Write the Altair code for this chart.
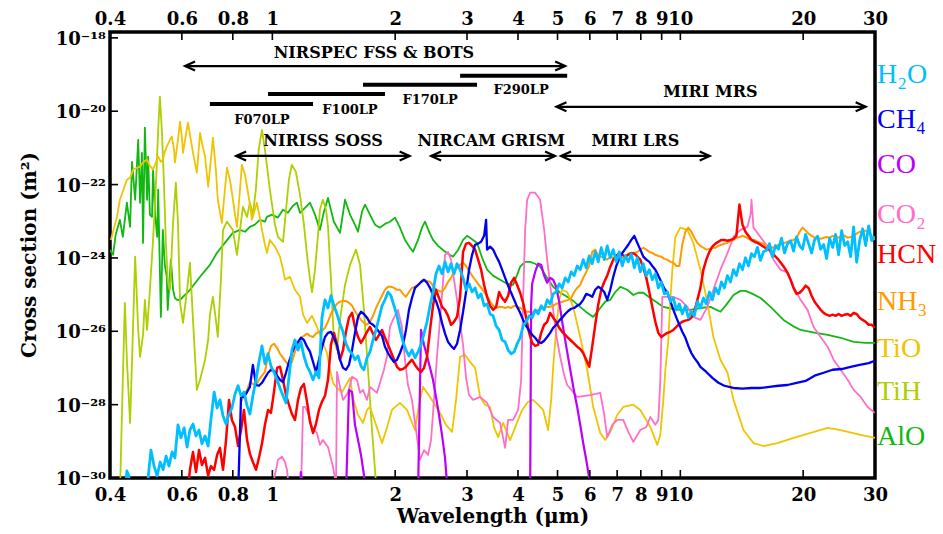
import altair as alt
import pandas as pd

# ---------------- axis tick values ----------------
X_TICKS = [0.4, 0.6, 0.8, 1, 2, 3, 4, 5, 6, 7, 8, 9, 10, 20, 30]
Y_TICKS = [-30, -28, -26, -24, -22, -20, -18]
Y_TOP = -17.84          # the frame top sits slightly above 10^-18

# Spectra were read as log10 values on a grid assuming 10^-18 at the frame top;
# READ_GAIN re-calibrates those readings to the true axis (10^-30 fixed at the bottom).
READ_GAIN = 1.0142

# ---------------- spectra: (wavelength um, log10 cross section m^2 as read) ----------------
ALO = [(0.400,-23.87),(0.407,-24.00),(0.413,-23.46),(0.423,-23.06),(0.430,-23.52),(0.440,-22.60),(0.448,-23.25),(0.453,-21.50),(0.461,-22.52),(0.469,-20.91),(0.474,-22.60),(0.479,-21.26),(0.482,-23.68),(0.487,-20.58),(0.493,-22.52),(0.496,-21.36),(0.501,-22.92),(0.507,-22.98),(0.510,-21.71),(0.516,-22.92),(0.522,-23.52),(0.525,-22.25),(0.533,-25.67),(0.539,-23.33),(0.545,-24.27),(0.551,-24.59),(0.554,-25.48),(0.564,-24.13),(0.571,-24.94),(0.577,-25.16),(0.584,-25.21),(0.594,-25.21),(0.628,-24.94),(0.665,-24.59),(0.703,-24.27),(0.731,-23.95),(0.765,-23.68),(0.800,-23.41),(0.833,-23.33),(0.857,-23.38),(0.881,-23.25),(0.906,-23.19),(0.932,-23.06),(0.959,-23.11),(0.970,-22.98),(0.997,-22.92),(1.032,-23.00),(1.062,-22.79),(1.092,-22.87),(1.123,-22.68),(1.149,-22.60),(1.169,-22.87),(1.202,-22.74),(1.237,-22.60),(1.272,-22.92),(1.308,-23.33),(1.338,-22.84),(1.369,-22.47),(1.415,-23.11),(1.465,-23.41),(1.507,-22.52),(1.550,-22.92),(1.594,-23.19),(1.621,-23.38),(1.659,-22.84),(1.687,-22.65),(1.735,-22.92),(1.785,-23.19),(1.836,-23.27),(1.888,-23.17),(1.942,-23.11),(1.998,-23.00),(2.055,-23.27),(2.114,-23.60),(2.175,-23.81),(2.212,-23.92),(2.275,-23.60),(2.327,-23.27),(2.367,-23.11),(2.421,-23.38),(2.476,-23.60),(2.548,-23.76),(2.620,-23.87),(2.695,-23.97),(2.772,-24.05),(2.852,-23.87),(2.934,-23.60),(3.001,-23.49),(3.052,-23.54),(3.175,-23.68),(3.267,-24.08),(3.360,-24.40),(3.475,-24.56),(3.616,-24.67),(3.762,-24.78),(3.891,-24.81),(3.980,-24.54),(4.049,-24.32),(4.165,-24.19),(4.284,-24.19),(4.407,-24.24),(4.533,-24.32),(4.716,-24.62),(4.879,-24.86),(5.076,-25.02),(5.280,-25.13),(5.462,-25.24),(5.683,-25.40),(5.912,-25.56),(6.116,-25.67),(6.364,-25.43),(6.546,-25.26),(6.734,-25.21),(6.927,-25.00),(7.125,-24.86),(7.413,-24.94),(7.668,-25.08),(7.888,-25.02),(8.114,-25.02),(8.442,-25.16),(8.782,-25.29),(9.085,-25.40),(9.559,-25.45),(10.00,-25.48),(10.58,-25.48),(11.20,-25.43),(11.85,-25.40),(12.54,-25.53),(12.97,-25.34),(13.50,-25.08),(14.04,-24.97),(14.44,-24.97),(15.03,-25.05),(15.72,-25.16),(16.64,-25.40),(17.90,-25.75),(18.84,-25.91),(19.71,-26.02),(21.45,-26.10),(22.96,-26.15),(24.71,-26.23),(26.59,-26.34),(28.46,-26.37),(30.0,-26.37)]

TIO = [(0.402,-23.60),(0.407,-23.38),(0.416,-22.98),(0.423,-22.52),(0.430,-22.30),(0.440,-21.98),(0.448,-21.93),(0.456,-21.71),(0.466,-21.66),(0.474,-21.63),(0.482,-21.52),(0.493,-21.44),(0.501,-21.61),(0.510,-21.71),(0.519,-21.50),(0.525,-21.36),(0.533,-21.50),(0.539,-21.44),(0.545,-21.23),(0.551,-21.09),(0.561,-20.91),(0.567,-20.82),(0.574,-21.17),(0.577,-21.52),(0.587,-20.91),(0.594,-20.42),(0.601,-20.91),(0.604,-21.26),(0.614,-20.77),(0.621,-20.45),(0.628,-20.77),(0.639,-21.26),(0.653,-21.79),(0.665,-20.72),(0.672,-20.99),(0.684,-21.36),(0.696,-22.17),(0.707,-21.44),(0.715,-20.85),(0.727,-21.71),(0.735,-22.52),(0.752,-23.14),(0.765,-22.25),(0.774,-21.66),(0.787,-21.98),(0.796,-22.33),(0.810,-22.92),(0.819,-23.25),(0.833,-22.25),(0.842,-21.58),(0.857,-21.85),(0.867,-22.17),(0.881,-22.65),(0.891,-23.06),(0.906,-22.79),(0.916,-22.60),(0.932,-23.00),(0.943,-23.33),(0.959,-23.73),(0.970,-23.95),(0.986,-23.60),(1.015,-23.78),(1.044,-24.05),(1.062,-24.40),(1.074,-24.67),(1.104,-24.59),(1.136,-24.94),(1.169,-25.13),(1.189,-25.61),(1.216,-25.83),(1.251,-25.64),(1.286,-25.94),(1.323,-26.29),(1.361,-26.64),(1.384,-27.09),(1.408,-27.44),(1.440,-27.58),(1.482,-27.69),(1.516,-27.50),(1.550,-27.31),(1.576,-27.85),(1.621,-28.30),(1.668,-28.52),(1.706,-28.17),(1.735,-28.09),(1.795,-28.57),(1.857,-29.06),(1.909,-28.65),(1.964,-28.17),(2.055,-27.98),(2.138,-28.17),(2.237,-28.71),(2.288,-28.03),(2.340,-27.55),(2.435,-27.82),(2.576,-28.25),(2.665,-28.57),(2.757,-28.76),(2.820,-27.90),(2.885,-26.74),(2.967,-26.69),(3.052,-26.88),(3.140,-27.04),(3.230,-27.82),(3.322,-28.03),(3.417,-28.09),(3.494,-28.63),(3.575,-28.90),(3.677,-28.52),(3.826,-28.98),(3.958,-28.57),(4.095,-28.17),(4.236,-27.95),(4.357,-27.90),(4.482,-28.03),(4.610,-28.17),(4.742,-28.71),(4.824,-27.90),(4.879,-27.01),(4.962,-26.02),(5.046,-25.21),(5.133,-24.94),(5.280,-25.00),(5.462,-25.40),(5.683,-26.21),(5.912,-27.09),(6.116,-28.09),(6.364,-28.79),(6.546,-28.98),(6.734,-28.76),(7.005,-28.30),(7.246,-28.09),(7.668,-28.03),(7.978,-28.17),(8.442,-28.63),(8.782,-29.11),(8.933,-28.84),(9.085,-27.90),(9.189,-27.09),(9.345,-26.29),(9.452,-25.21),(9.559,-24.40),(9.723,-23.52),(10.00,-23.27),(10.41,-23.33),(10.76,-23.68),(11.20,-24.40),(11.65,-25.29),(12.05,-26.21),(12.54,-26.82),(13.05,-27.17),(13.50,-27.90),(14.28,-28.71),(15.11,-29.06),(15.99,-29.14),(17.30,-29.06),(18.95,-28.92),(20.86,-28.79),(22.96,-28.65),(24.71,-28.71),(27.67,-28.84),(30.0,-28.92)]

TIH = [(0.423,-30.5),(0.430,-27.36),(0.435,-25.29),(0.440,-26.82),(0.448,-28.52),(0.453,-26.82),(0.461,-24.05),(0.469,-26.02),(0.474,-26.74),(0.482,-26.15),(0.487,-25.21),(0.493,-26.02),(0.501,-24.94),(0.510,-23.60),(0.519,-21.98),(0.525,-20.64),(0.530,-19.75),(0.536,-20.64),(0.542,-21.98),(0.548,-23.60),(0.554,-24.67),(0.561,-24.94),(0.571,-23.14),(0.580,-22.06),(0.587,-23.14),(0.594,-25.29),(0.604,-25.83),(0.618,-24.94),(0.628,-24.21),(0.639,-25.75),(0.653,-27.63),(0.665,-27.36),(0.684,-26.82),(0.696,-26.29),(0.703,-25.61),(0.715,-25.13),(0.727,-25.75),(0.735,-26.21),(0.748,-24.67),(0.757,-23.33),(0.774,-23.11),(0.800,-23.33),(0.819,-24.00),(0.833,-23.33),(0.847,-22.71),(0.867,-22.98),(0.881,-22.60),(0.896,-22.92),(0.911,-22.25),(0.926,-21.17),(0.943,-20.64),(0.959,-21.17),(0.986,-22.25),(1.015,-23.19),(1.032,-23.52),(1.062,-23.65),(1.080,-22.79),(1.098,-21.98),(1.116,-21.58),(1.142,-21.77),(1.169,-22.39),(1.195,-23.19),(1.216,-24.00),(1.237,-24.67),(1.251,-25.00),(1.272,-24.40),(1.294,-23.46),(1.308,-22.79),(1.330,-22.52),(1.354,-22.79),(1.369,-23.25),(1.392,-24.67),(1.415,-26.29),(1.440,-26.56),(1.465,-25.75),(1.507,-24.81),(1.550,-24.27),(1.603,-23.86),(1.640,-24.27),(1.677,-25.48),(1.716,-27.09),(1.755,-28.71),(1.805,-30.5)]

H2O = [(0.435,-30.6),(0.440,-29.81),(0.445,-29.94),(0.450,-30.6),(0.490,-30.6),(0.496,-30.00),(0.504,-29.25),(0.513,-29.68),(0.522,-29.94),(0.531,-29.57),(0.540,-29.78),(0.549,-29.41),(0.558,-29.68),(0.568,-29.30),(0.577,-29.46),(0.587,-28.57),(0.597,-28.92),(0.608,-28.65),(0.618,-29.17),(0.628,-28.71),(0.639,-28.55),(0.650,-28.87),(0.661,-28.71),(0.672,-29.08),(0.684,-28.87),(0.696,-29.14),(0.707,-28.44),(0.720,-27.69),(0.732,-28.12),(0.744,-27.90),(0.757,-28.33),(0.770,-28.55),(0.783,-28.28),(0.796,-28.12),(0.810,-27.74),(0.824,-27.52),(0.838,-27.79),(0.852,-27.69),(0.867,-28.06),(0.881,-28.28),(0.896,-27.79),(0.912,-27.36),(0.927,-26.88),(0.943,-26.45),(0.959,-26.93),(0.976,-26.66),(0.992,-26.99),(1.009,-27.15),(1.027,-27.36),(1.044,-27.58),(1.062,-27.79),(1.080,-27.98),(1.098,-27.31),(1.117,-26.56),(1.136,-26.29),(1.156,-26.56),(1.175,-26.34),(1.195,-26.72),(1.216,-26.99),(1.237,-27.15),(1.258,-27.36),(1.279,-27.15),(1.301,-27.31),(1.323,-25.69),(1.346,-25.21),(1.369,-25.43),(1.392,-25.10),(1.416,-25.37),(1.440,-25.59),(1.465,-25.86),(1.490,-26.07),(1.515,-26.39),(1.541,-26.56),(1.568,-26.66),(1.594,-26.82),(1.622,-26.72),(1.649,-26.99),(1.677,-27.09),(1.706,-26.77),(1.735,-26.61),(1.765,-26.29),(1.795,-26.02),(1.826,-25.69),(1.857,-25.37),(1.888,-25.21),(1.921,-25.00),(1.953,-25.10),(1.987,-25.37),(2.021,-25.64),(2.055,-26.02),(2.090,-26.34),(2.126,-26.56),(2.162,-26.72),(2.199,-26.56),(2.237,-26.77),(2.275,-26.61),(2.314,-26.42),(2.353,-26.12),(2.394,-25.80),(2.435,-25.37),(2.476,-25.00),(2.518,-24.51),(2.561,-24.30),(2.605,-24.51),(2.650,-24.19),(2.695,-24.46),(2.741,-24.24),(2.788,-24.51),(2.836,-24.24),(2.885,-24.40),(2.934,-24.62),(2.984,-24.94),(3.035,-24.78),(3.087,-25.00),(3.140,-24.89),(3.194,-25.16),(3.248,-25.05),(3.304,-25.37),(3.360,-25.32),(3.417,-25.59),(3.476,-25.64),(3.535,-25.91),(3.596,-26.02),(3.657,-26.29),(3.720,-26.34),(3.783,-26.56),(3.848,-26.66),(3.914,-26.61),(3.981,-26.39),(4.049,-26.23),(4.118,-25.91),(4.189,-25.80),(4.260,-25.64),(4.333,-25.69),(4.407,-25.48),(4.483,-25.59),(4.559,-25.37),(4.637,-25.48),(4.716,-25.21),(4.797,-25.32),(4.879,-25.05),(4.962,-25.00),(5.047,-24.78),(5.133,-24.89),(5.221,-24.62),(5.310,-24.73),(5.401,-24.46),(5.493,-24.56),(5.587,-24.30),(5.683,-24.40),(5.780,-24.13),(5.879,-24.35),(5.979,-24.03),(6.081,-24.24),(6.186,-23.92),(6.291,-24.19),(6.399,-23.81),(6.508,-24.13),(6.619,-23.76),(6.734,-24.08),(6.849,-23.86),(6.966,-24.19),(7.085,-23.92),(7.206,-24.30),(7.330,-24.03),(7.455,-24.19),(7.583,-23.97),(7.712,-24.35),(7.844,-24.08),(7.978,-24.46),(8.114,-24.24),(8.253,-24.56),(8.394,-24.40),(8.537,-24.67),(8.684,-24.51),(8.832,-24.89),(8.983,-24.73),(9.137,-25.05),(9.293,-25.00),(9.452,-25.26),(9.613,-25.16),(9.778,-25.48),(9.945,-25.32),(10.11,-25.59),(10.29,-25.37),(10.46,-25.69),(10.64,-25.53),(10.82,-25.64),(11.01,-25.26),(11.20,-25.43),(11.39,-25.16),(11.58,-25.32),(11.78,-25.00),(11.98,-25.21),(12.19,-24.89),(12.40,-25.05),(12.61,-24.73),(12.82,-24.89),(13.04,-24.56),(13.27,-24.73),(13.49,-24.40),(13.72,-24.56),(13.96,-24.24),(14.20,-24.40),(14.44,-24.08),(14.69,-24.30),(14.94,-23.97),(15.19,-24.05),(15.45,-23.80),(15.72,-24.15),(15.99,-23.92),(16.26,-23.88),(16.54,-23.70),(16.82,-24.05),(17.11,-23.75),(17.40,-23.85),(17.70,-23.55),(18.00,-23.95),(18.31,-23.70),(18.63,-23.62),(18.94,-23.90),(19.27,-23.52),(19.60,-23.75),(19.93,-23.85),(20.28,-23.45),(20.62,-23.70),(20.98,-23.95),(21.33,-23.60),(21.70,-23.50),(22.07,-23.85),(22.45,-23.72),(22.83,-24.10),(23.22,-23.55),(23.62,-23.80),(24.02,-23.45),(24.43,-24.00),(24.85,-23.35),(25.28,-23.75),(25.71,-23.65),(26.15,-24.05),(26.59,-23.25),(27.05,-24.20),(27.51,-23.62),(27.98,-23.30),(28.46,-23.75),(28.95,-23.22),(29.44,-23.62),(29.95,-23.50)]

CH4 = [(0.824,-30.5),(0.838,-27.82),(0.852,-27.82),(0.867,-27.69),(0.881,-27.55),(0.896,-26.96),(0.912,-27.50),(0.927,-27.52),(0.943,-27.44),(0.959,-27.31),(0.976,-27.17),(0.992,-27.09),(1.009,-27.12),(1.027,-27.25),(1.044,-27.36),(1.062,-27.42),(1.080,-27.17),(1.098,-26.88),(1.117,-26.64),(1.136,-26.45),(1.156,-26.34),(1.175,-26.23),(1.195,-26.29),(1.216,-26.47),(1.237,-26.61),(1.258,-26.88),(1.279,-27.15),(1.301,-26.82),(1.323,-26.50),(1.346,-26.21),(1.369,-26.10),(1.392,-26.07),(1.416,-26.23),(1.440,-26.42),(1.465,-26.82),(1.490,-27.04),(1.515,-27.09),(1.541,-26.96),(1.568,-26.56),(1.594,-26.10),(1.622,-25.67),(1.649,-25.53),(1.677,-25.59),(1.706,-25.69),(1.735,-25.83),(1.765,-25.88),(1.795,-25.96),(1.826,-26.07),(1.857,-26.18),(1.888,-26.47),(1.921,-26.64),(1.953,-26.77),(1.987,-26.88),(2.021,-26.82),(2.055,-26.64),(2.090,-26.42),(2.126,-26.02),(2.162,-25.48),(2.199,-25.16),(2.237,-24.89),(2.275,-24.81),(2.314,-24.73),(2.353,-24.67),(2.394,-24.75),(2.435,-24.89),(2.476,-25.08),(2.518,-25.24),(2.561,-25.48),(2.605,-25.83),(2.650,-26.12),(2.695,-26.34),(2.741,-26.45),(2.788,-26.53),(2.836,-26.39),(2.885,-26.02),(2.934,-25.53),(2.984,-25.00),(3.035,-24.40),(3.087,-24.00),(3.140,-23.73),(3.194,-23.70),(3.248,-23.65),(3.304,-23.49),(3.341,-23.06),(3.360,-23.86),(3.417,-23.78),(3.476,-23.86),(3.535,-24.03),(3.596,-24.19),(3.657,-24.40),(3.720,-24.62),(3.783,-24.83),(3.848,-25.02),(3.914,-25.21),(3.981,-25.40),(4.049,-25.56),(4.118,-25.75),(4.189,-25.91),(4.260,-26.04),(4.333,-26.15),(4.407,-26.23),(4.483,-26.34),(4.559,-26.37),(4.637,-26.31),(4.716,-26.21),(4.797,-26.10),(4.879,-25.96),(4.962,-25.88),(5.047,-25.77),(5.133,-25.69),(5.221,-25.59),(5.310,-25.51),(5.401,-25.45),(5.493,-25.43),(5.587,-25.37),(5.683,-25.32),(5.780,-25.21),(5.879,-25.05),(5.979,-25.08),(6.081,-25.13),(6.186,-24.94),(6.291,-24.86),(6.399,-24.91),(6.508,-25.00),(6.619,-25.21),(6.734,-24.94),(6.849,-24.59),(6.966,-24.30),(7.085,-24.11),(7.206,-23.95),(7.330,-23.84),(7.455,-23.73),(7.583,-23.60),(7.712,-23.49),(7.844,-23.68),(7.978,-23.86),(8.114,-24.05),(8.253,-24.13),(8.394,-24.19),(8.537,-24.30),(8.684,-24.40),(8.832,-24.56),(8.983,-24.73),(9.137,-24.91),(9.293,-25.02),(9.452,-25.24),(9.613,-25.48),(9.778,-25.69),(9.945,-25.88),(10.11,-26.07),(10.29,-26.23),(10.46,-26.45),(10.64,-26.64),(10.82,-26.77),(11.01,-26.88),(11.20,-27.01),(11.58,-27.15),(11.98,-27.31),(12.40,-27.44),(12.82,-27.52),(13.49,-27.58),(14.20,-27.60),(14.94,-27.58),(15.72,-27.58),(16.54,-27.55),(17.40,-27.52),(18.31,-27.50),(19.27,-27.44),(20.28,-27.39),(21.33,-27.25),(22.45,-27.17),(23.62,-27.09),(24.85,-27.07),(26.15,-27.01),(27.51,-26.96),(28.95,-26.91),(29.95,-26.85)]

HCN = [(0.618,-30.5),(0.628,-29.78),(0.639,-29.30),(0.650,-29.84),(0.661,-29.25),(0.672,-29.65),(0.684,-29.46),(0.696,-29.94),(0.707,-29.68),(0.720,-29.78),(0.732,-29.38),(0.744,-29.19),(0.757,-29.78),(0.770,-28.98),(0.783,-27.90),(0.796,-28.44),(0.810,-28.63),(0.824,-29.14),(0.838,-28.71),(0.852,-28.17),(0.867,-28.98),(0.881,-29.35),(0.896,-29.57),(0.912,-29.78),(0.927,-29.46),(0.943,-29.08),(0.959,-28.57),(0.976,-28.17),(0.992,-28.25),(1.009,-27.69),(1.027,-27.04),(1.044,-27.01),(1.062,-27.36),(1.080,-27.77),(1.098,-28.03),(1.117,-28.28),(1.136,-28.44),(1.156,-27.90),(1.175,-27.58),(1.195,-27.47),(1.216,-27.95),(1.237,-28.49),(1.258,-28.79),(1.279,-28.55),(1.301,-28.17),(1.323,-27.95),(1.346,-27.79),(1.369,-27.36),(1.392,-26.42),(1.416,-26.10),(1.440,-26.42),(1.465,-26.82),(1.490,-26.56),(1.515,-26.07),(1.541,-25.69),(1.568,-25.56),(1.594,-25.94),(1.622,-26.21),(1.649,-26.37),(1.677,-26.23),(1.706,-26.07),(1.735,-25.94),(1.765,-26.12),(1.795,-26.29),(1.826,-26.15),(1.857,-26.02),(1.888,-26.23),(1.921,-26.42),(1.953,-26.61),(1.987,-26.82),(2.021,-27.01),(2.055,-27.09),(2.090,-27.07),(2.126,-27.01),(2.162,-26.91),(2.199,-26.82),(2.237,-26.96),(2.275,-27.07),(2.314,-27.15),(2.353,-27.04),(2.394,-26.74),(2.435,-26.02),(2.476,-25.37),(2.518,-24.94),(2.561,-25.16),(2.605,-25.40),(2.650,-25.48),(2.695,-25.64),(2.741,-25.88),(2.788,-25.80),(2.836,-25.67),(2.885,-25.13),(2.934,-23.92),(2.984,-23.70),(3.035,-23.68),(3.087,-23.76),(3.140,-23.86),(3.194,-24.13),(3.248,-24.40),(3.304,-24.81),(3.360,-25.13),(3.417,-25.37),(3.476,-25.48),(3.535,-25.40),(3.596,-25.00),(3.657,-25.16),(3.720,-25.26),(3.783,-25.10),(3.848,-24.75),(3.914,-24.62),(3.981,-24.81),(4.049,-25.02),(4.118,-25.29),(4.189,-25.69),(4.260,-26.10),(4.333,-26.37),(4.407,-26.45),(4.483,-26.42),(4.559,-26.10),(4.637,-25.88),(4.716,-25.80),(4.797,-25.56),(4.879,-25.69),(4.962,-25.80),(5.047,-25.96),(5.133,-26.07),(5.221,-26.15),(5.310,-26.23),(5.401,-26.31),(5.493,-26.39),(5.587,-26.47),(5.683,-26.53),(5.780,-26.64),(5.879,-26.82),(5.979,-27.01),(6.081,-26.47),(6.186,-25.88),(6.291,-25.34),(6.399,-24.94),(6.508,-24.73),(6.619,-24.56),(6.734,-24.32),(6.849,-24.13),(6.966,-24.03),(7.085,-23.95),(7.206,-24.00),(7.330,-24.05),(7.455,-24.00),(7.583,-23.95),(7.712,-23.97),(7.844,-24.05),(7.978,-24.13),(8.114,-24.35),(8.253,-24.62),(8.394,-25.00),(8.537,-25.40),(8.684,-25.80),(8.832,-26.10),(8.983,-26.21),(9.137,-26.15),(9.293,-26.10),(9.452,-26.07),(9.613,-26.02),(9.778,-25.94),(9.945,-25.86),(10.11,-25.80),(10.29,-25.77),(10.46,-25.75),(10.64,-25.69),(10.82,-25.53),(11.01,-25.21),(11.20,-24.89),(11.39,-24.40),(11.58,-24.13),(11.78,-23.92),(11.98,-23.78),(12.19,-23.70),(12.40,-23.65),(12.61,-23.60),(12.82,-23.60),(13.04,-23.62),(13.27,-23.60),(13.49,-23.57),(13.72,-23.49),(13.96,-22.65),(14.20,-23.19),(14.44,-23.38),(14.69,-23.49),(14.94,-23.60),(15.19,-23.65),(15.45,-23.68),(15.72,-23.73),(15.99,-23.78),(16.26,-23.84),(16.54,-23.86),(16.82,-23.95),(17.11,-24.05),(17.40,-24.13),(17.70,-24.24),(18.00,-24.35),(18.31,-24.48),(18.63,-24.67),(18.94,-24.89),(19.27,-25.05),(19.60,-25.02),(19.93,-24.94),(20.28,-24.83),(20.62,-24.89),(20.98,-25.10),(21.33,-25.26),(21.70,-25.37),(22.07,-25.48),(22.45,-25.56),(22.83,-25.61),(23.22,-25.64),(23.62,-25.61),(24.02,-25.64),(24.43,-25.59),(24.85,-25.64),(25.28,-25.61),(25.71,-25.59),(26.15,-25.64),(26.59,-25.56),(27.05,-25.59),(27.51,-25.69),(27.98,-25.75),(28.46,-25.80),(28.95,-25.88),(29.44,-25.88),(29.95,-25.96)]

NH3 = [(0.838,-27.95),(0.852,-27.79),(0.867,-27.63),(0.881,-27.42),(0.896,-27.47),(0.912,-27.52),(0.927,-27.36),(0.943,-27.25),(0.959,-27.15),(0.976,-26.72),(0.992,-26.45),(1.009,-26.39),(1.027,-26.50),(1.044,-26.66),(1.062,-26.77),(1.080,-26.88),(1.098,-26.99),(1.117,-26.88),(1.136,-26.61),(1.156,-26.42),(1.175,-26.23),(1.195,-26.18),(1.216,-26.12),(1.237,-26.18),(1.258,-26.21),(1.279,-26.12),(1.301,-26.07),(1.323,-26.04),(1.346,-25.96),(1.369,-25.80),(1.392,-25.59),(1.416,-25.43),(1.440,-25.32),(1.465,-25.26),(1.490,-25.24),(1.515,-25.24),(1.541,-25.29),(1.568,-25.37),(1.594,-25.51),(1.622,-25.64),(1.649,-25.75),(1.677,-25.83),(1.706,-25.88),(1.735,-25.80),(1.765,-25.64),(1.795,-25.43),(1.826,-25.26),(1.857,-25.10),(1.888,-24.94),(1.921,-24.86),(1.953,-24.86),(1.987,-24.89),(2.021,-24.94),(2.055,-24.94),(2.090,-25.05),(2.126,-25.13),(2.162,-25.00),(2.199,-24.89),(2.237,-24.86),(2.275,-24.83),(2.314,-24.73),(2.353,-24.67),(2.394,-24.70),(2.435,-24.73),(2.476,-24.83),(2.518,-24.94),(2.561,-24.97),(2.605,-25.00),(2.650,-24.89),(2.695,-24.73),(2.741,-24.62),(2.788,-24.46),(2.836,-24.35),(2.885,-24.27),(2.934,-24.21),(2.984,-24.30),(3.035,-24.43),(3.087,-24.56),(3.140,-24.67),(3.194,-24.78),(3.248,-24.89),(3.304,-25.00),(3.360,-25.10),(3.417,-25.26),(3.476,-25.37),(3.535,-25.43),(3.596,-25.40),(3.657,-25.40),(3.720,-25.43),(3.783,-25.40),(3.848,-25.43),(3.914,-25.37),(3.981,-25.40),(4.049,-25.43),(4.118,-25.48),(4.189,-25.53),(4.260,-25.53),(4.333,-25.56),(4.407,-25.51),(4.483,-25.48),(4.559,-25.45),(4.637,-25.43),(4.716,-25.40),(4.797,-25.40),(4.879,-25.37),(4.962,-25.32),(5.047,-25.29),(5.133,-25.26),(5.221,-25.24),(5.310,-25.21),(5.401,-25.16),(5.493,-25.00),(5.587,-24.89),(5.683,-24.81),(5.780,-24.62),(5.879,-24.46),(5.979,-24.30),(6.081,-23.92),(6.186,-23.86),(6.291,-24.03),(6.399,-24.05),(6.508,-24.08),(6.619,-24.13),(6.734,-24.05),(6.849,-24.08),(6.966,-24.13),(7.085,-24.13),(7.206,-24.08),(7.330,-24.03),(7.455,-23.97),(7.583,-23.95),(7.712,-23.95),(7.844,-23.92),(7.978,-23.86),(8.114,-23.81),(8.253,-23.86),(8.394,-23.92),(8.537,-23.95),(8.684,-24.00),(8.832,-24.03),(8.983,-24.05),(9.137,-24.11),(9.293,-24.13),(9.452,-24.19),(9.613,-24.21),(9.778,-24.30),(9.945,-24.30),(10.11,-23.73),(10.29,-23.38),(10.46,-23.27),(10.64,-23.38),(10.82,-23.54),(11.01,-23.68),(11.20,-23.76),(11.39,-23.81),(11.58,-23.86),(11.78,-23.84),(11.98,-23.81),(12.19,-23.81),(12.40,-23.76),(12.61,-23.73),(12.82,-23.70),(13.04,-23.68),(13.27,-23.62),(13.49,-23.60),(13.72,-23.54),(13.96,-23.52),(14.20,-23.49),(14.44,-23.52),(14.69,-23.57),(14.94,-23.60),(15.19,-23.60),(15.45,-23.65),(15.72,-23.68),(15.99,-23.70),(16.26,-23.76),(16.54,-23.78),(16.82,-23.81),(17.11,-23.78),(17.40,-23.73),(17.70,-23.70),(18.00,-23.68),(18.31,-23.65),(18.63,-23.62),(18.94,-23.60),(19.27,-23.54),(19.60,-23.38),(19.93,-23.27),(20.28,-23.35),(20.62,-23.43),(20.98,-23.49),(21.33,-23.54),(21.70,-23.54),(22.07,-23.57),(22.45,-23.54),(22.83,-23.52),(23.22,-23.54),(23.62,-23.49),(24.02,-23.52),(24.43,-23.54),(24.85,-23.49),(25.28,-23.49),(25.71,-23.54),(26.15,-23.52),(26.59,-23.49),(27.05,-23.43),(27.51,-23.38),(27.98,-23.38),(28.46,-23.35),(28.95,-23.38),(29.44,-23.49),(29.95,-23.60)]

CO = [(1.160,-30.5),(1.175,-29.84),(1.190,-30.5),(1.515,-30.5),(1.541,-27.63),(1.568,-27.69),(1.594,-28.57),(1.622,-28.98),(1.649,-29.38),(1.677,-29.92),(1.706,-30.5),(2.275,-30.5),(2.314,-26.02),(2.353,-26.42),(2.394,-26.72),(2.435,-27.04),(2.476,-27.36),(2.518,-27.82),(2.561,-28.30),(2.605,-28.84),(2.650,-29.46),(2.695,-30.5),(4.284,-30.5),(4.308,-25.34),(4.333,-24.78),(4.407,-24.46),(4.483,-24.24),(4.559,-24.27),(4.637,-24.56),(4.716,-24.75),(4.797,-24.62),(4.879,-24.67),(4.962,-24.86),(5.047,-25.26),(5.133,-25.80),(5.221,-26.29),(5.310,-26.77),(5.401,-27.23),(5.493,-27.69),(5.587,-28.09),(5.683,-28.57),(5.780,-29.06),(5.879,-29.51),(5.979,-30.00),(6.081,-30.5)]

CO2 = [(0.986,-30.5),(1.021,-29.78),(1.032,-29.51),(1.056,-29.43),(1.074,-29.57),(1.086,-29.78),(1.104,-30.5),(1.175,-30.5),(1.189,-28.09),(1.202,-28.09),(1.223,-28.25),(1.251,-28.63),(1.286,-28.79),(1.308,-29.11),(1.330,-28.98),(1.369,-29.17),(1.408,-29.70),(1.424,-30.00),(1.432,-30.5),(1.440,-27.15),(1.465,-27.55),(1.490,-27.90),(1.533,-27.71),(1.568,-27.28),(1.612,-27.36),(1.640,-27.71),(1.668,-27.63),(1.706,-27.90),(1.735,-27.55),(1.805,-27.71),(1.836,-27.44),(1.877,-27.09),(1.909,-26.74),(1.942,-25.94),(1.975,-25.75),(2.032,-25.48),(2.078,-25.94),(2.114,-26.82),(2.150,-27.50),(2.199,-27.90),(2.250,-28.71),(2.301,-29.51),(2.353,-29.25),(2.408,-29.38),(2.449,-28.98),(2.490,-27.90),(2.532,-26.74),(2.576,-25.75),(2.605,-25.08),(2.650,-24.00),(2.695,-23.92),(2.741,-24.13),(2.788,-24.67),(2.836,-25.21),(2.885,-25.83),(2.934,-26.42),(2.984,-27.31),(3.035,-27.77),(3.105,-27.90),(3.230,-27.82),(3.360,-27.98),(3.476,-28.36),(3.616,-28.52),(3.720,-29.19),(3.783,-28.44),(3.891,-28.44),(4.003,-28.17),(4.072,-27.36),(4.118,-25.21),(4.165,-23.33),(4.212,-22.52),(4.284,-22.33),(4.407,-22.33),(4.533,-22.52),(4.637,-23.33),(4.716,-24.13),(4.797,-24.81),(4.879,-25.48),(4.962,-26.15),(5.076,-26.74),(5.191,-27.23),(5.280,-27.50),(5.587,-27.82),(6.014,-27.77),(6.364,-27.71),(6.508,-28.30),(6.619,-28.90),(6.810,-28.57),(7.005,-28.44),(7.246,-28.44),(7.455,-28.76),(7.668,-29.03),(7.978,-28.71),(8.253,-28.63),(8.442,-28.36),(8.684,-28.57),(8.832,-28.44),(8.933,-27.36),(9.034,-25.13),(9.293,-25.13),(9.613,-25.13),(10.00,-25.21),(10.41,-25.40),(10.76,-25.67),(11.20,-25.75),(11.65,-25.40),(12.05,-24.94),(12.54,-24.40),(13.05,-23.95),(13.50,-23.52),(14.04,-23.33),(14.60,-23.25),(14.86,-22.92),(14.94,-22.52),(15.11,-23.27),(15.72,-23.52),(16.35,-23.78),(16.92,-24.13),(17.60,-24.40),(18.31,-24.48),(18.95,-24.86),(19.71,-25.21),(20.50,-25.48),(21.21,-25.94),(22.07,-26.21),(22.96,-26.47),(23.75,-26.82),(24.71,-27.09),(25.71,-27.36),(26.59,-27.63),(27.67,-27.82),(28.78,-28.09),(29.95,-28.25)]

# drawing order (first = bottom)
SERIES_NAMES = ["AlO", "TiH", "TiO", "CO2", "NH3", "CO", "HCN", "CH4", "H2O"]
SERIES_DATA = [ALO, TIH, TIO, CO2, NH3, CO, HCN, CH4, H2O]
SERIES_COLORS = ["#12B812", "#AECF00", "#F0C400", "#FF6EC7", "#FF9A00", "#BB00FF", "#FF0000", "#0000F0", "#00BFFF"]
SERIES_WIDTHS = [1.8, 1.8, 1.8, 1.8, 2.0, 2.2, 2.5, 2.3, 2.8]

# right-hand species labels (top to bottom)
LABEL_TEXT = ["H₂O", "CH₄", "CO", "CO₂", "HCN", "NH₃", "TiO", "TiH", "AlO"]
LABEL_COLORS = ["#00BFFF", "#0000F0", "#BB00FF", "#FF6EC7", "#FF0000", "#FF9A00", "#F0C400", "#AECF00", "#12B812"]

# instrument ranges (double arrows), levels in log10 cross section
ARROW_TEXT = ["NIRSPEC FSS & BOTS", "MIRI MRS", "NIRISS SOSS", "NIRCAM GRISM", "MIRI LRS"]
ARROW_START = [0.611, 4.97, 0.815, 2.45, 5.10]
ARROW_END = [5.22, 28.46, 2.17, 4.93, 11.8]
ARROW_LEVEL = [-18.77, -19.88, -21.22, -21.22, -21.22]
ARROW_TEXT_WL = [1.774, 11.85, 1.331, 3.44, 7.76]
ARROW_TEXT_LEVEL = [-18.55, -19.60, -20.95, -20.95, -20.95]

# NIRSpec filters (thick bars)
FILTER_TEXT = ["F070LP", "F100LP", "F170LP", "F290LP"]
FILTER_START = [0.703, 0.976, 1.668, 2.885]
FILTER_END = [1.258, 1.888, 3.175, 5.28]
FILTER_LEVEL = [-19.80, -19.53, -19.28, -19.03]
FILTER_TEXT_WL = [0.943, 1.550, 2.435, 4.07]
FILTER_TEXT_LEVEL = [-20.35, -20.07, -19.81, -19.54]

# ---------------- chart ----------------
W, H = 765, 446
BOLD = "DejaVu Serif"
XS = alt.Scale(type="log", domain=[0.4, 30], nice=False)
YS = alt.Scale(domain=[-30, Y_TOP], nice=False, zero=False)

SUP = str.maketrans("-0123456789", "⁻⁰¹²³⁴⁵⁶⁷⁸⁹")

layers = []
for name, data, color, width in zip(SERIES_NAMES, SERIES_DATA, SERIES_COLORS, SERIES_WIDTHS):
    df = pd.DataFrame(data, columns=["wl", "read"])
    df["lg"] = -30 + (df["read"] + 30) * READ_GAIN
    df["i"] = range(len(df))
    layers.append(
        alt.Chart(df).mark_line(color=color, strokeWidth=width, clip=True, strokeJoin="round").encode(
            x=alt.X("wl:Q", scale=XS, axis=None),
            y=alt.Y("lg:Q", scale=YS, axis=None),
            order=alt.Order("i:Q"),
        )
    )

xt = pd.DataFrame({"wl": X_TICKS})
common_x_axis = dict(values=X_TICKS, format="~g", labelOverlap=False, labelFlush=False, labelBound=False,
                     labelFont=BOLD, labelFontWeight="bold", labelFontSize=18, labelColor="black",
                     ticks=False, domain=False, grid=False)
bottom_ticks = alt.Chart(xt).mark_rule(color="black", strokeWidth=1.6).encode(
    x=alt.X("wl:Q", scale=XS, axis=alt.Axis(orient="bottom", labelPadding=8,
            title="Wavelength (μm)", titleFont=BOLD, titleFontWeight="bold", titleFontSize=20,
            titleColor="black", titleY=44, titleBaseline="alphabetic", **common_x_axis)),
    y=alt.value(H - 8), y2=alt.value(H),
)
top_ticks = alt.Chart(xt).mark_rule(color="black", strokeWidth=1.6).encode(
    x=alt.X("wl:Q", scale=XS, axis=alt.Axis(orient="top", labelPadding=4, title=None, **common_x_axis)),
    y=alt.value(0), y2=alt.value(8),
)
yt = pd.DataFrame({"lg": Y_TICKS, "lab": ["10" + str(v).translate(SUP) for v in Y_TICKS]})
left_ticks = alt.Chart(yt).mark_rule(color="black", strokeWidth=1.6).encode(
    y=alt.Y("lg:Q", scale=YS, axis=None),
    x=alt.value(0), x2=alt.value(8),
)
# y tick labels and title drawn as text marks
left_labels = alt.Chart(yt).mark_text(font=BOLD, fontWeight="bold", fontSize=18, color="black",
                                      align="right", baseline="alphabetic", dy=7).encode(
    y=alt.Y("lg:Q", scale=YS, axis=None), x=alt.value(-4), text="lab:N")
y_title = alt.Chart(pd.DataFrame({"t": ["Cross section (m²)"]})).mark_text(
    font=BOLD, fontWeight="bold", fontSize=20, color="black", angle=270, align="center",
    baseline="alphabetic").encode(text="t:N", x=alt.value(-74), y=alt.value(H / 2))
layers += [bottom_ticks, top_ticks, left_ticks, left_labels, y_title]

arr = pd.DataFrame({"a": ARROW_START, "b": ARROW_END, "lv": ARROW_LEVEL})
layers.append(alt.Chart(arr).mark_rule(color="black", strokeWidth=2.2).encode(
    x=alt.X("a:Q", scale=XS, axis=None), x2="b:Q", y=alt.Y("lv:Q", scale=YS, axis=None)))
layers.append(alt.Chart(arr).mark_point(shape="M1,-0.45L0,0L1,0.45", size=400, filled=False, color="black",
                                        strokeWidth=2.2, opacity=1).encode(
    x=alt.X("a:Q", scale=XS, axis=None), y=alt.Y("lv:Q", scale=YS, axis=None)))
layers.append(alt.Chart(arr).mark_point(shape="M-1,-0.45L0,0L-1,0.45", size=400, filled=False, color="black",
                                        strokeWidth=2.2, opacity=1).encode(
    x=alt.X("b:Q", scale=XS, axis=None), y=alt.Y("lv:Q", scale=YS, axis=None)))
arr_t = pd.DataFrame({"t": ARROW_TEXT, "wl": ARROW_TEXT_WL, "lg": ARROW_TEXT_LEVEL})
layers.append(alt.Chart(arr_t).mark_text(font=BOLD, fontWeight="bold", fontSize=16, color="black",
                                         baseline="alphabetic", align="center").encode(
    x=alt.X("wl:Q", scale=XS, axis=None), y=alt.Y("lg:Q", scale=YS, axis=None), text="t:N"))

flt = pd.DataFrame({"a": FILTER_START, "b": FILTER_END, "lv": FILTER_LEVEL})
layers.append(alt.Chart(flt).mark_rule(color="black", strokeWidth=4).encode(
    x=alt.X("a:Q", scale=XS, axis=None), x2="b:Q", y=alt.Y("lv:Q", scale=YS, axis=None)))
flt_t = pd.DataFrame({"t": FILTER_TEXT, "wl": FILTER_TEXT_WL, "lg": FILTER_TEXT_LEVEL})
layers.append(alt.Chart(flt_t).mark_text(font=BOLD, fontWeight="bold", fontSize=13, color="black",
                                         baseline="alphabetic", align="center").encode(
    x=alt.X("wl:Q", scale=XS, axis=None), y=alt.Y("lg:Q", scale=YS, axis=None), text="t:N"))

LABEL_BASELINES = [51, 96, 141, 191, 231, 278, 325, 368, 413]
for txt, col, yb in zip(LABEL_TEXT, LABEL_COLORS, LABEL_BASELINES):
    layers.append(alt.Chart(pd.DataFrame({"t": [txt]})).mark_text(
        font="Liberation Serif, DejaVu Serif", fontSize=28, color=col, align="left",
        baseline="alphabetic").encode(text="t:N", x=alt.value(W + 2), y=alt.value(yb)))

chart = (
    alt.layer(*layers)
    .resolve_axis(x="independent")
    .properties(width=W, height=H, background="white",
                autosize=alt.AutoSizeParams(type="none"),
                padding={"left": 110, "top": 32, "right": 68, "bottom": 56})
    .configure_view(stroke="black", strokeWidth=3.5)
)

chart.save("out.html", embed_options={"renderer": "svg", "actions": False})
